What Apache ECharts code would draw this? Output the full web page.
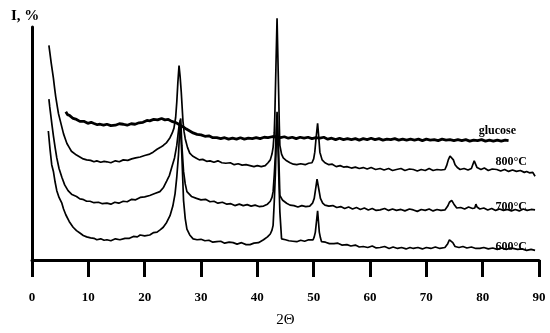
<!DOCTYPE html>
<html>
<head>
<meta charset="utf-8">
<script src="https://cdn.jsdelivr.net/npm/echarts@6/dist/echarts.min.js"></script>
<style>
  html, body { margin: 0; padding: 0; background: #fff; }
  #chart { width: 550px; height: 333px; }
</style>
</head>
<body>
<div id="chart"></div>
<script>
// 2Θ, intensity (arbitrary units, curves offset as in the figure)
const glucose = [
  [6.0,154],[6.3,151],[6.7,150],[7.3,147],[7.9,146],[8.5,144],[9.2,144],[9.9,142],[10.5,143],[10.9,142],
  [11.6,140.5],[12.1,141],[12.7,140],[13.3,141],[14.0,139.5],[14.8,140],[15.5,141.5],[16.2,141],[16.9,140],
  [17.6,141.5],[18.3,141],[19.0,142.5],[19.7,143],[20.4,145],[20.9,144.5],[21.6,146],[22.3,145.5],[23.0,147],
  [23.6,145.5],[24.2,146],[24.8,144],[25.4,143],[25.9,141.5],[26.3,140],[26.9,138],[27.4,136],[28.0,134],
  [28.6,132],[29.3,130.5],[30.0,130],[30.7,128.5],[31.4,129],[32.1,127],[32.8,127],[33.5,126],[34.2,127],
  [34.9,125.5],[35.6,126.5],[36.3,125.5],[37.0,127],[37.7,125.5],[38.4,126.5],[39.1,126],[39.8,127],[40.5,126],
  [41.2,127.5],[41.9,127],[42.6,128],[43.4,128],[44.1,127],[44.8,128],[45.5,126.5],[46.2,127.5],[46.9,126],
  [47.6,127.5],[48.3,126.5],[49.0,127.5],[49.7,126],[50.4,127],[51.1,126.5],[51.8,127.5],[52.5,125.5],
  [53.2,126.5],[53.9,125],[54.6,126.5],[55.3,125],[56.0,126],[56.7,125],[57.4,126],[58.1,124.5],[58.8,126],
  [59.5,125],[60.2,126.5],[60.9,125],[61.6,126],[62.3,124.5],[63.0,125.5],[63.7,125],[64.4,126],[65.1,124.5],
  [65.8,125.5],[66.5,124.5],[67.2,125.5],[67.9,124.5],[68.6,125.5],[69.3,124],[70.0,125.5],[70.7,124.5],
  [71.4,125],[72.1,124],[72.8,125.5],[73.5,124.5],[74.2,125],[74.9,124],[75.6,125],[76.3,124],[77.0,125],
  [77.7,123.5],[78.4,124.5],[79.1,124],[79.8,125],[80.5,123.5],[81.2,124.5],[81.9,123.5],[82.6,124.5],
  [83.3,123.5],[84.0,124.5],[84.6,124]
]
const c800 = [
  [3.0,223],[3.2,214],[3.4,205],[3.6,197],[3.8,189],[4.0,179],[4.2,170],[4.5,159],[4.7,152],[5.0,145],
  [5.3,138],[5.6,131],[5.9,126],[6.2,121],[6.6,117],[7.0,113],[7.3,111],[7.9,109],[8.5,107],[9.1,105],
  [9.7,104],[10.4,103.5],[11.0,102],[11.5,103],[12.2,101.5],[12.8,102.5],[13.3,102],[14.0,101],[14.8,103],
  [15.5,102],[16.2,104],[17.0,103.5],[17.7,105],[18.4,106],[19.2,107],[20.0,108.5],[20.9,110],[21.5,112],
  [22.2,115],[22.8,117],[23.3,119],[23.9,122],[24.5,127],[24.9,132],[25.2,137],[25.5,148],[25.7,164],
  [25.9,185],[26.1,202],[26.3,190],[26.5,174],[26.8,144],[27.0,133],[27.2,126],[27.6,117],[28.0,111],
  [28.5,108],[29.1,106],[29.7,104],[30.3,104.5],[31.0,102.5],[31.6,103],[32.3,101.5],[33.0,103],[33.7,101],
  [34.4,100.5],[35.2,101],[35.9,99],[36.6,100],[37.3,98.5],[38.0,99],[38.7,98],[39.4,97],[40.0,98],
  [40.7,97],[41.4,98],[41.9,101],[42.3,104],[42.6,110],[42.8,117],[43.0,132],[43.1,149],[43.3,200],
  [43.5,251],[43.65,210],[43.8,169],[43.9,140],[44.0,119],[44.3,110],[44.6,106],[45.2,103],[45.8,101],
  [46.4,99.5],[47.0,99],[47.7,100],[48.5,99],[49.1,100.5],[49.7,101],[50.0,105],[50.2,112],[50.45,128],
  [50.7,142],[50.9,128],[51.1,112],[51.5,104],[52.0,101],[52.7,99],[53.3,99.5],[54.0,97],[54.7,98],
  [55.3,96.5],[55.9,97],[56.7,95.5],[57.4,96.5],[58.1,95],[58.8,96],[59.5,94.5],[60.2,96],[61.0,94],
  [61.8,95],[62.5,93.5],[63.3,95],[64.0,93],[64.7,94],[65.5,95],[66.2,93],[67.0,94.5],[67.7,94],
  [68.4,92.5],[69.1,94],[69.8,93],[70.5,95],[71.2,93],[71.9,94],[72.6,93.5],[73.3,94],[73.6,98],
  [73.9,104],[74.2,108],[74.5,109],[74.8,104],[75.1,99],[75.5,96],[76.0,94],[76.7,95],[77.4,93.5],
  [78.0,95],[78.3,97],[78.5,103],[78.6,101],[79.0,96],[79.7,94],[80.3,95.5],[81.0,93],[81.7,94.5],
  [82.5,94],[83.2,92.5],[83.9,94],[84.6,92],[85.3,93.5],[86.0,92],[86.7,93],[87.4,91],[87.8,92],
  [88.3,90.5],[88.9,91],[89.1,89],[89.3,87]
]
const c700 = [
  [3.0,167],[3.15,159],[3.3,152],[3.55,140],[3.8,129],[4.1,117],[4.4,106],[4.8,95],[5.3,86],[5.8,78],
  [6.4,72],[7.1,68],[7.9,66],[8.5,63.5],[9.0,63],[9.7,61],[10.3,61],[11.0,59.5],[11.8,60],[12.5,58.5],
  [13.3,59],[14.0,58],[14.7,60],[15.4,59],[16.2,61],[16.9,60.5],[17.7,63],[18.4,62.5],[19.2,65],[20.0,65.5],
  [20.9,67],[21.8,69],[22.7,71],[23.3,75],[23.9,82],[24.4,88],[24.8,96],[25.3,106],[25.7,119],[26.1,139],
  [26.4,147],[26.6,119],[26.9,92],[27.2,79],[27.5,71],[28.3,66],[29.2,64],[30.0,62.5],[30.8,63],[31.6,60.5],
  [32.3,61],[33.0,59],[33.8,60],[34.6,58],[35.3,58.5],[36.0,56.5],[36.8,58],[37.5,56.5],[38.2,57.5],
  [38.9,56],[39.6,57],[40.3,55.5],[41.1,56],[41.8,58],[42.3,61],[42.6,65],[42.8,71],[43.0,88],[43.2,109],
  [43.35,135],[43.5,154],[43.65,135],[43.8,109],[43.9,88],[44.0,67],[44.5,62],[45.2,59],[45.8,57],
  [46.5,56.5],[47.2,55],[47.9,56.5],[48.6,55.5],[49.3,56],[49.8,59],[50.1,64],[50.35,74],[50.6,84],
  [50.9,74],[51.2,64],[51.6,59],[52.0,57],[52.7,56],[53.4,56.5],[54.1,54.5],[54.8,55.5],[55.5,53.5],
  [56.2,55],[56.9,53],[57.6,54.5],[58.3,52.5],[59.0,54],[59.7,52],[60.4,53.5],[61.1,51.5],[61.8,52],
  [62.6,53.5],[63.3,51.5],[64.0,53],[64.7,51.5],[65.5,52.5],[66.2,51],[67.0,53],[67.7,52],[68.4,50.5],
  [69.1,52.5],[69.8,51.5],[70.5,53],[71.2,51],[71.9,52.5],[72.6,51.5],[73.3,52],[73.8,56],[74.1,60],
  [74.5,62],[74.9,58],[75.4,54],[76.1,54.5],[76.8,53],[77.5,55],[78.2,53.5],[78.6,54],[78.8,58],[79.0,55],
  [79.5,53],[80.2,54],[80.9,52],[81.6,53.5],[82.3,51.5],[83.0,53],[83.7,51.5],[84.4,52.5],[85.1,51],
  [85.8,52.5],[86.5,51],[87.2,53],[87.9,51.5],[88.6,52.5],[89.3,52]
]
const c600 = [
  [2.9,134],[3.2,115],[3.5,99],[3.8,92],[4.1,81],[4.4,72],[4.8,65],[5.3,59],[5.6,53],[6.0,47],[6.6,40],
  [7.3,34],[7.9,30.5],[8.5,28],[9.1,25.5],[9.7,24],[10.4,23],[11.0,22.5],[11.5,21],[12.2,22],[12.8,20.5],
  [13.3,21],[14.0,20],[14.8,22],[15.6,21],[16.5,22.5],[17.3,22.5],[18.0,24.5],[18.7,24],[19.2,26],[20.0,25],
  [20.9,26],[21.6,28.5],[22.2,29],[22.8,31.5],[23.3,34],[23.9,39],[24.5,46],[25.0,56],[25.4,69],[25.7,86],
  [26.0,109],[26.3,145],[26.6,109],[26.9,62],[27.2,43],[27.5,32],[28.0,26],[28.6,22],[29.3,21],[30.0,21.5],
  [30.7,20],[31.4,20.5],[32.1,18.5],[32.8,19],[33.5,19.5],[34.2,17.5],[35.0,18.5],[35.7,18],[36.4,16.5],
  [37.2,18],[38.0,16],[38.7,16],[39.4,17.5],[40.2,18],[41.1,21],[41.8,24],[42.3,27],[42.6,31],[42.8,36],
  [43.0,60],[43.2,89],[43.35,120],[43.5,149],[43.65,120],[43.8,89],[44.0,50],[44.3,22],[45.0,21],[45.6,20],
  [46.3,19.5],[47.0,19],[47.7,20.5],[48.4,19.5],[49.1,21],[49.9,21],[50.1,24],[50.3,29],[50.5,40],[50.7,51],
  [50.85,40],[51.0,29],[51.2,23],[51.4,19],[52.1,18.5],[52.8,17],[53.6,17],[54.3,17.5],[55.0,15.5],[55.9,16],
  [56.6,14.5],[57.4,15.5],[58.1,13.5],[58.8,14],[59.6,13],[60.4,14.5],[61.1,12.5],[61.8,13],[62.6,14],
  [63.4,12],[64.1,13.5],[64.9,12],[65.6,13],[66.4,11.5],[67.1,13],[67.7,12],[68.5,13],[69.3,11.5],[70.0,13],
  [70.8,12],[71.6,13.5],[72.4,12],[73.3,13],[73.8,17],[74.1,21],[74.4,22],[74.7,18],[75.1,14],[75.8,13],
  [76.5,14],[77.2,12.5],[78.0,13.5],[78.8,12],[79.5,12],[80.2,13],[81.0,11.5],[81.8,12.5],[82.6,11],
  [83.4,12.5],[84.2,11],[85.0,12.5],[85.4,12],[86.2,11],[87.0,11.5],[87.8,10],[88.6,11],[89.3,10]
]
const seriesNames = ['glucose', '800°C', '700°C', '600°C']
const xTicks = [0, 10, 20, 30, 40, 50, 60, 70, 80, 90]

const chart = echarts.init(document.getElementById('chart'))
const serifFont = '"Liberation Serif", "DejaVu Serif", serif'

const makeSeries = (name, data, width) => ({
  name,
  type: 'line',
  data,
  symbol: 'none',
  clip: false,
  lineStyle: { color: '#000', width },
  silent: true,
})

const option = {
  animation: false,
  backgroundColor: '#fff',
  title: {
    text: 'I, %',
    left: 6,
    top: 4,
    textStyle: { fontFamily: serifFont, fontWeight: 'bold', fontSize: 15, color: '#000' },
  },
  grid: { left: 32, right: 11, top: 27, bottom: 64 },
  xAxis: {
    type: 'value',
    min: xTicks[0],
    max: xTicks[xTicks.length - 1],
    interval: 10,
    name: '2Θ',
    nameLocation: 'middle',
    nameGap: 53,
    nameTextStyle: { fontFamily: serifFont, fontSize: 15, color: '#000' },
    axisLine: { lineStyle: { color: '#000', width: 3 } },
    axisTick: { length: 17, lineStyle: { color: '#000', width: 3 } },
    axisLabel: {
      margin: 31,
      fontFamily: serifFont,
      fontWeight: 'bold',
      fontSize: 13,
      color: '#000',
      showMinLabel: true,
      showMaxLabel: true,
    },
    splitLine: { show: false },
  },
  yAxis: {
    type: 'value',
    min: 0,
    max: 242,
    axisLine: { show: true, lineStyle: { color: '#000', width: 3 } },
    axisTick: { show: false },
    axisLabel: { show: false },
    splitLine: { show: false },
  },
  series: [
    makeSeries(seriesNames[0], glucose, 2.8),
    makeSeries(seriesNames[1], c800, 1.7),
    makeSeries(seriesNames[2], c700, 1.7),
    makeSeries(seriesNames[3], c600, 1.7),
  ],
  graphic: [
    { type: 'text', right: 34, top: 125, style: { text: seriesNames[0], font: 'bold 12px ' + serifFont, fill: '#000' } },
    { type: 'text', right: 23, top: 156, style: { text: seriesNames[1], font: 'bold 12px ' + serifFont, fill: '#000' } },
    { type: 'text', right: 23, top: 201, style: { text: seriesNames[2], font: 'bold 12px ' + serifFont, fill: '#000' } },
    { type: 'text', right: 23, top: 241, style: { text: seriesNames[3], font: 'bold 12px ' + serifFont, fill: '#000' } },
  ],
}

chart.setOption(option)
window.addEventListener('resize', () => chart.resize())
</script>
</body>
</html>
